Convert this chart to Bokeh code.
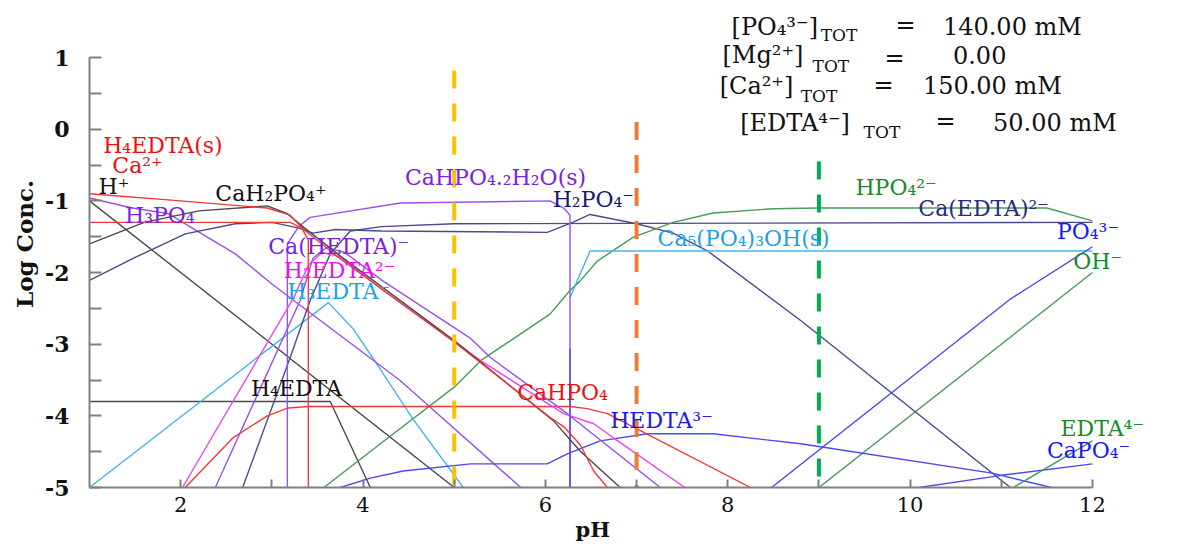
import math
from bokeh.plotting import figure
from bokeh.models import Range1d, FixedTicker, ColumnDataSource, Title
from bokeh.core.properties import value
from bokeh.embed import file_html
from bokeh.resources import INLINE

# ---------------- data: species curves (pH, log conc) ----------------
hplus_ph = [1, 5]
hplus_c = [-1, -5]
oh_ph = [9, 12]
oh_c = [-5, -2]
ca_ph = [1, 2.0, 2.95, 3.2, 3.35, 3.7, 5.0, 6.05, 6.2, 6.38, 6.53, 6.68]
ca_c = [-0.9, -1.0, -1.1, -1.2, -1.4, -1.76, -2.97, -4.02, -4.15, -4.4, -4.77, -5]
cah2po4_ph = [1, 1.6, 2.2, 2.95, 3.17, 3.35, 3.72, 5.0, 6.09, 6.38, 6.82]
cah2po4_c = [-1.6, -1.3, -1.14, -1.07, -1.18, -1.37, -1.74, -2.95, -4.07, -4.49, -5]
h4edta_s_ph = [1, 3.2, 3.33, 3.4, 3.4]
h4edta_s_c = [-1.3, -1.3, -1.38, -1.55, -5]
h3po4_ph = [1, 1.47, 1.87, 2.05, 2.6, 3.0, 4.4, 5.73]
h3po4_c = [-0.96, -1.1, -1.18, -1.32, -1.74, -2.16, -3.5, -5]
brushite_ph = [3.17, 3.17, 3.3, 3.42, 4.41, 6.05, 6.2, 6.27, 6.27]
brushite_c = [-5, -1.6, -1.35, -1.23, -1.03, -1.0, -1.1, -1.2, -5]
cahedta_ph = [2.38, 3.31, 3.45, 3.6, 3.8, 4.22, 5.18, 5.4, 6.24, 7.26]
cahedta_c = [-5, -2.39, -1.8, -1.65, -1.72, -2.12, -2.92, -3.19, -3.97, -5]
h2edta_ph = [2.02, 3.24, 3.4, 3.55, 3.75, 4.19, 5.29, 6.2, 6.53, 6.75, 7.53]
h2edta_c = [-5, -2.35, -1.9, -1.72, -1.78, -2.22, -3.23, -3.97, -4.11, -4.31, -5]
h3edta_ph = [1, 3.62, 3.9, 4.19, 4.55, 5.1]
h3edta_c = [-5, -2.42, -2.8, -3.35, -4.05, -5]
h4edta_ph = [1, 3.64, 4.08]
h4edta_c = [-3.8, -3.8, -5]
caedta_ph = [2.68, 3.2, 3.42, 3.64, 3.86, 4.2, 5.0, 12]
caedta_c = [-5, -3.19, -2.39, -1.74, -1.42, -1.36, -1.32, -1.3]
h2po4_ph = [1, 1.5, 2.05, 2.6, 3.0, 3.3, 3.45, 3.7, 4.2, 6.02, 6.3, 6.49, 7.0, 7.4, 7.78, 8.8, 11.1]
h2po4_c = [-2.11, -1.79, -1.46, -1.32, -1.3, -1.38, -1.45, -1.4, -1.42, -1.44, -1.3, -1.19, -1.32, -1.45, -1.7, -2.67, -5]
cahpo4_ph = [2.05, 2.58, 2.95, 3.18, 3.4, 6.27, 6.46, 6.68, 8.25]
cahpo4_c = [-5, -4.3, -4.0, -3.89, -3.87, -3.87, -3.9, -3.97, -5]
hedta_ph = [3.75, 4.08, 4.44, 5.18, 6.02, 6.24, 6.6, 7.12, 7.84, 8.8, 10.9, 11.55]
hedta_c = [-5, -4.87, -4.77, -4.67, -4.67, -4.53, -4.35, -4.25, -4.25, -4.39, -4.8, -5]
hpo4_ph = [3.57, 4.19, 5.0, 5.29, 6.05, 6.27, 6.38, 6.57, 6.96, 7.4, 7.84, 8.5, 9.0, 11.5, 12]
hpo4_c = [-5, -4.39, -3.6, -3.23, -2.58, -2.25, -2.12, -1.84, -1.51, -1.3, -1.17, -1.11, -1.1, -1.1, -1.28]
hap_ph = [6.27, 6.49, 12]
hap_c = [-2.35, -1.7, -1.7]
po4_ph = [8.48, 11.1, 12]
po4_c = [-5, -2.37, -1.64]
capo4_ph = [10.1, 11.0, 12]
capo4_c = [-5, -4.83, -4.67]
edta4_ph = [11.13, 12]
edta4_c = [-5, -4.35]
bluevert_ph = [6.27, 6.27]
bluevert_c = [-3.06, -5]

# marker pH lines
marker_ph = [5, 7, 9]
marker_top = [0.82, 0.1, -0.45]
marker_colors = ["#ffc000", "#ed7d31", "#00b050"]

# species labels
label_text = ["H₄EDTA(s)", "Ca²⁺", "H⁺", "CaH₂PO₄⁺", "H₃PO₄", "CaHPO₄.₂H₂O(s)",
              "H₂PO₄⁻", "HPO₄²⁻", "Ca(EDTA)²⁻", "PO₄³⁻", "OH⁻", "Ca₅(PO₄)₃OH(s)",
              "Ca(HEDTA)⁻", "H₂EDTA²⁻", "H₃EDTA⁻", "H₄EDTA", "CaHPO₄", "HEDTA³⁻",
              "EDTA⁴⁻", "CaPO₄⁻"]
label_ph = [1.15, 1.25, 1.1, 2.38, 1.39, 4.46, 6.08, 9.4, 10.09, 11.61, 11.79, 7.23,
            2.96, 3.13, 3.17, 2.77, 5.69, 6.71, 11.65, 11.5]
label_c = [-0.23, -0.51, -0.8, -0.9, -1.21, -0.68, -0.98, -0.82, -1.11, -1.43, -1.84, -1.53,
           -1.63, -1.97, -2.27, -3.62, -3.68, -4.07, -4.17, -4.49]

# total concentrations box
tot_species = ["[PO₄³⁻]", "[Mg²⁺]", "[Ca²⁺]", "[EDTA⁴⁻]"]
tot_values = ["140.00 mM", "0.00", "150.00 mM", "50.00 mM"]

# ticks
y_ticks = [-5, -4, -3, -2, -1, 0, 1]
y_minor = [-4.5, -3.5, -2.5, -1.5, -0.5, 0.5]
x_ticks = [2, 4, 6, 8, 10, 12]
x_minor = [3, 5, 7, 9, 11]

# ---------------- styles ----------------
RED, BLACK, PURPLE, MAGENTA = "#f03a3a", "#4a4a4a", "#9a50f0", "#ee44ee"
LBLUE, NAVY, BLUE, GREEN = "#45b5ec", "#4a4a90", "#4a4af0", "#4a9a5a"

curves = [
    (hplus_ph, hplus_c, BLACK), (oh_ph, oh_c, GREEN), (h4edta_ph, h4edta_c, BLACK),
    (h3edta_ph, h3edta_c, LBLUE), (h3po4_ph, h3po4_c, PURPLE), (h2po4_ph, h2po4_c, NAVY),
    (caedta_ph, caedta_c, NAVY), (hpo4_ph, hpo4_c, GREEN), (hap_ph, hap_c, LBLUE),
    (hedta_ph, hedta_c, BLUE), (po4_ph, po4_c, BLUE), (capo4_ph, capo4_c, BLUE),
    (edta4_ph, edta4_c, GREEN), (cahpo4_ph, cahpo4_c, RED), (brushite_ph, brushite_c, PURPLE),
    (bluevert_ph, bluevert_c, BLUE), (h2edta_ph, h2edta_c, MAGENTA),
    (cahedta_ph, cahedta_c, PURPLE), (cah2po4_ph, cah2po4_c, BLACK),
    (ca_ph, ca_c, RED), (h4edta_s_ph, h4edta_s_c, RED),
]

label_colors = ["#ee1111", "#ee1111", "#111111", "#111111", "#7a22dd", "#7a22dd",
                "#1a1a6a", "#1a8a2a", "#2a2a80", "#1a1af0", "#1a8a2a", "#22a0e8",
                "#7a22dd", "#ee11ee", "#22a0e8", "#111111", "#ee1111", "#1a1af0",
                "#1a8a2a", "#1a1af0"]

SERIF = "DejaVu Serif"

p = figure(width=1195, height=545, x_range=Range1d(1, 13.13), y_range=Range1d(-5, 1.796),
           output_backend="svg", toolbar_location=None, title=None,
           min_border_left=89, min_border_right=0, min_border_top=0, min_border_bottom=58)
p.outline_line_color = None
p.xgrid.visible = False
p.ygrid.visible = False
p.background_fill_color = "white"

for xs, ys, col in curves:
    p.line(xs, ys, line_color=col, line_width=1.4)

for xv, top, col in zip(marker_ph, marker_top, marker_colors):
    p.segment(x0=[xv], y0=[top], x1=[xv], y1=[-5], line_color=col, line_width=4,
              line_dash="18 15")

lab_src = ColumnDataSource(dict(x=label_ph, y=label_c, t=label_text, c=label_colors))
p.text(x="x", y="y", text="t", text_color="c", source=lab_src,
       text_font=value(SERIF), text_font_size=value("22px"),
       text_align="left", text_baseline="middle")

# total concentrations text
tot_bracket_x = [8.99, 8.83, 8.72, 9.34]
tot_main_y = [1.42, 1.03, 0.60, 0.08]
tot_sub_x = [9.02, 8.93, 8.80, 9.49]
tot_sub_y = [1.31, 0.88, 0.46, -0.04]
tot_eq_x = [9.95, 9.83, 9.71, 10.39]
tot_eq_y = [1.45, 1.0, 0.62, 0.12]
tot_val_x = [10.36, 10.47, 10.14, 10.91]
p.text(x=tot_bracket_x, y=tot_main_y, text=tot_species, text_color="#111111",
       text_font=value(SERIF), text_font_size=value("24px"),
       text_align="right", text_baseline="middle")
p.text(x=tot_sub_x, y=tot_sub_y, text=["TOT"] * 4, text_color="#111111",
       text_font=value(SERIF), text_font_size=value("17px"),
       text_align="left", text_baseline="middle")
p.text(x=tot_eq_x, y=tot_eq_y, text=["="] * 4, text_color="#111111",
       text_font=value(SERIF), text_font_size=value("24px"),
       text_align="center", text_baseline="middle")
p.text(x=tot_val_x, y=tot_main_y, text=tot_values, text_color="#111111",
       text_font=value(SERIF), text_font_size=value("24px"),
       text_align="left", text_baseline="middle")

# axes
for ax in (p.xaxis[0], p.yaxis[0]):
    ax.axis_line_color = "#808080"
    ax.axis_line_width = 2
    ax.major_tick_line_color = "#808080"
    ax.minor_tick_line_color = "#808080"
    ax.major_tick_line_width = 2
    ax.minor_tick_line_width = 2
    ax.major_tick_out = 0
    ax.minor_tick_out = 0
    ax.major_label_text_font = SERIF
    ax.major_label_text_color = "#111111"

p.xaxis.ticker = FixedTicker(ticks=x_ticks, minor_ticks=x_minor)
p.xaxis.bounds = (1, 12)
p.xaxis.major_tick_in = 8
p.xaxis.minor_tick_in = 8
p.xaxis.major_label_standoff = 9
p.xaxis.major_label_text_font_size = "21px"

p.yaxis.ticker = FixedTicker(ticks=y_ticks, minor_ticks=y_minor)
p.yaxis.bounds = (-5, 1)
p.yaxis.major_tick_in = 12
p.yaxis.minor_tick_in = 12
p.yaxis.major_label_standoff = 20
p.yaxis.major_label_text_font_size = "22px"
p.yaxis.major_label_text_font_style = "bold"
p.yaxis.major_label_overrides = {t: str(t) for t in y_ticks}
p.yaxis.axis_label = "Log Conc."
p.yaxis.axis_label_text_font = SERIF
p.yaxis.axis_label_text_font_size = "23px"
p.yaxis.axis_label_text_font_style = "bold"
p.yaxis.axis_label_text_color = "#111111"
p.yaxis.axis_label_standoff = 4

p.add_layout(Title(text="pH", align="left", offset=486, standoff=0,
                   text_font=SERIF, text_font_size="21px", text_font_style="bold",
                   text_color="#111111"), "below")

open("out.html", "w").write(file_html(p, INLINE))
